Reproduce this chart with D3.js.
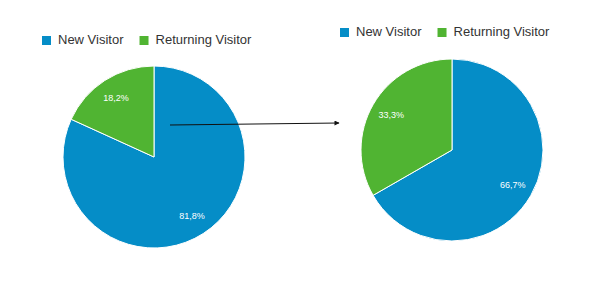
<!DOCTYPE html>
<html>
<head>
<meta charset="utf-8">
<style>
  html, body { margin: 0; width: 100%; height: 100%; background: #fff; }
  svg { display: block; font-family: Arial, "Liberation Sans", sans-serif; }
</style>
<script src="https://cdn.jsdelivr.net/npm/d3@7"></script>
</head>
<body>
<div id="chart"></div>
<script>
// data
var categories = ["New Visitor", "Returning Visitor"];
var beforeValues = [81.8, 18.2];
var afterValues = [66.7, 33.3];
var colors = ["#058dc7", "#50b432"];

var width = 595,
    height = 286,
    radius = 91;

var svg = d3.select("#chart").append("svg")
    .attr("width", width)
    .attr("height", height);

var color = d3.scaleOrdinal().domain(categories).range(colors);

var pie = d3.pie().sort(null).value(function(d) { return d.value; });
var arc = d3.arc().innerRadius(0).outerRadius(radius);
var labelArc = d3.arc().innerRadius(radius * 0.77).outerRadius(radius * 0.77);

function fmt(v) {
  return d3.format(".1f")(v).replace(".", ",") + "%";
}

function drawPie(values, cx, cy, legendX, legendY) {
  var data = categories.map(function(c, i) { return { name: c, value: values[i] }; });

  // legend
  var legend = svg.append("g").attr("transform", "translate(" + legendX + "," + legendY + ")");
  var x = 0;
  categories.forEach(function(c) {
    var item = legend.append("g").attr("transform", "translate(" + x + ",0)");
    item.append("rect")
        .attr("x", 0).attr("y", -8)
        .attr("width", 9).attr("height", 9)
        .attr("fill", color(c));
    var t = item.append("text")
        .attr("x", 16).attr("y", 0)
        .attr("font-size", 13)
        .attr("fill", "#333")
        .text(c);
    x += 16 + t.node().getComputedTextLength() + 16;
  });

  var g = svg.append("g").attr("transform", "translate(" + cx + "," + cy + ")");

  var arcs = pie(data);
  g.selectAll("path.slice")
    .data(arcs)
    .enter().append("path")
      .attr("class", "slice")
      .attr("d", arc)
      .attr("fill", function(d) { return color(d.data.name); })
      .attr("stroke", "#fff")
      .attr("stroke-width", 1);

  g.selectAll("text.label")
    .data(arcs)
    .enter().append("text")
      .attr("class", "label")
      .attr("transform", function(d) { return "translate(" + labelArc.centroid(d) + ")"; })
      .attr("text-anchor", "middle")
      .attr("dy", "0.35em")
      .attr("font-size", 9)
      .attr("fill", "#fff")
      .text(function(d) { return fmt(d.data.value); });
}

drawPie(beforeValues, 154, 157, 42, 44);
drawPie(afterValues, 452, 150, 340, 36);

// arrow between the two charts
svg.append("defs").append("marker")
    .attr("id", "arrowhead")
    .attr("viewBox", "0 0 10 10")
    .attr("refX", 9).attr("refY", 5)
    .attr("markerWidth", 7).attr("markerHeight", 5)
    .attr("orient", "auto")
  .append("path")
    .attr("d", "M0,0L10,5L0,10z")
    .attr("fill", "#111");

svg.append("line")
    .attr("x1", 170).attr("y1", 125)
    .attr("x2", 339).attr("y2", 123)
    .attr("stroke", "#111")
    .attr("stroke-width", 1)
    .attr("marker-end", "url(#arrowhead)");
</script>
</body>
</html>
